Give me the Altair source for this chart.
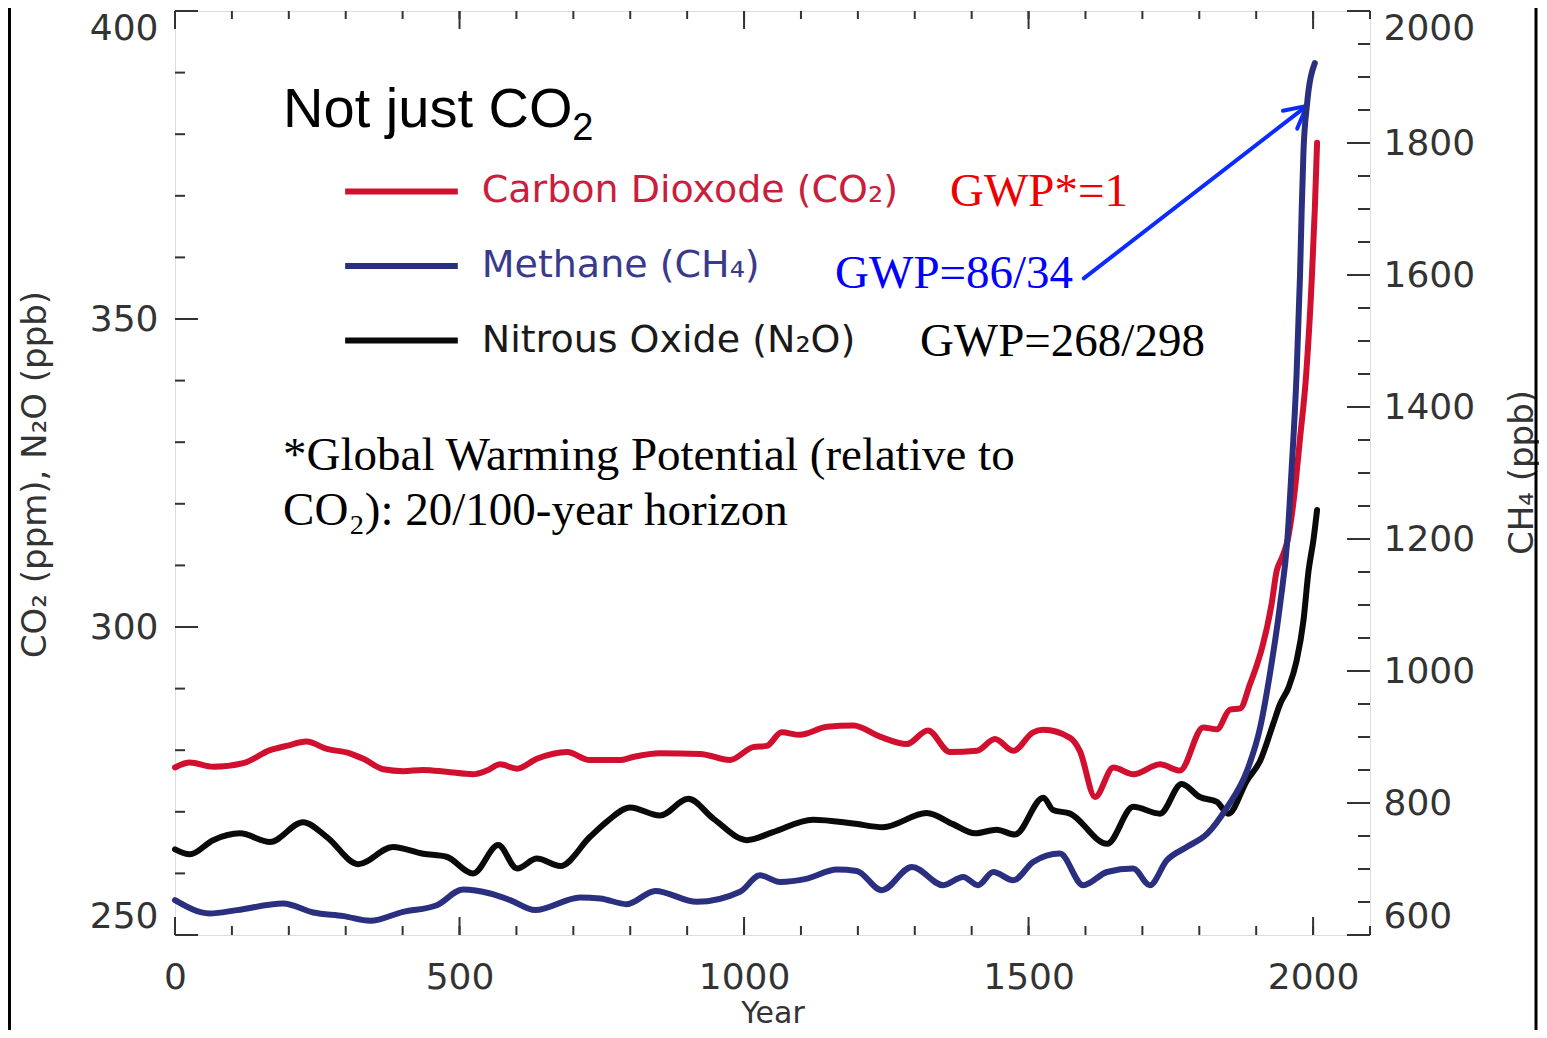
import altair as alt
import pandas as pd

W, H = 1195, 924

# ---------------- data ----------------
co2_year = [0, 26, 67, 120, 167, 196, 231, 267, 307, 331, 366, 401, 436, 477, 524,
            548, 571, 601, 636, 689, 729, 782, 805, 852, 923, 975, 1016, 1040, 1066, 1098,
            1146, 1192, 1239, 1286, 1323, 1362, 1409, 1441, 1473, 1508, 1526, 1573, 1590, 1617, 1649,
            1684, 1731, 1766, 1807, 1831, 1854, 1872, 1889, 1900, 1910, 1927, 1936, 1945, 1956, 1965,
            1977, 1988, 1998, 2003, 2007]
co2_ppm = [277.2, 278.0, 277.3, 277.9, 280.0, 280.7, 281.4, 280.2, 279.5, 278.6, 276.9, 276.6, 276.8, 276.5, 276.1,
           276.7, 277.7, 277.0, 278.6, 279.7, 278.4, 278.4, 278.9, 279.5, 279.4, 278.4, 280.5, 280.7, 282.9, 282.5,
           283.8, 284.0, 282.2, 281.0, 283.2, 279.7, 279.9, 281.8, 279.9, 282.9, 283.3, 282.0, 279.9, 272.4, 277.2,
           276.1, 277.7, 276.7, 283.7, 283.4, 286.6, 286.8, 290.7, 293.5, 296.5, 303.7, 309.1, 311.2, 314.4, 319.9,
           330.6, 341.2, 357.1, 367.8, 378.6]

n2o_year = [0, 26, 67, 114, 167, 225, 267, 322, 383, 436, 477, 524, 568, 601, 636,
            677, 729, 760, 800, 852, 902, 946, 1005, 1051, 1121, 1192, 1244, 1321, 1367, 1406,
            1444, 1476, 1526, 1543, 1573, 1638, 1684, 1731, 1769, 1801, 1831, 1851, 1884, 1907, 1930,
            1942, 1957, 1971, 1983, 1992, 2001, 2007]
n2o_ppb = [263.9, 263.1, 265.4, 266.5, 265.1, 268.3, 265.9, 261.5, 264.3, 263.2, 262.7, 260.0, 264.6, 260.8, 262.4,
           261.2, 265.9, 268.5, 270.7, 269.4, 272.1, 268.9, 265.4, 266.7, 268.7, 268.1, 267.5, 269.8, 268.0, 266.5,
           267.1, 266.3, 272.3, 270.3, 269.7, 264.8, 270.8, 269.7, 274.5, 272.4, 271.6, 269.7, 275.1, 278.3, 284.3,
           287.5, 290.2, 294.5, 301.0, 309.1, 314.4, 319.0]

ch4_year = [0, 61, 109, 190, 243, 296, 343, 401, 460, 506, 554, 589, 633, 712, 747,
            794, 844, 917, 993, 1028, 1063, 1111, 1163, 1198, 1242, 1295, 1350, 1385, 1411, 1438,
            1473, 1508, 1555, 1596, 1638, 1684, 1713, 1743, 1778, 1814, 1849, 1884, 1907, 1924, 1942,
            1955, 1962, 1971, 1977, 1980, 1983, 1989, 2003]
ch4_ppb = [652.8, 632.7, 637.7, 647.8, 634.1, 628.6, 621.5, 635.1, 645.2, 668.9, 662.9, 652.8, 637.7, 656.8, 655.4,
           646.7, 666.8, 650.2, 665.4, 690.5, 680.4, 685.5, 699.2, 697.1, 667.9, 703.1, 675.4, 688.0, 675.4, 695.5,
           682.9, 710.6, 723.3, 675.4, 695.5, 700.6, 675.4, 713.2, 733.3, 753.5, 793.7, 849.1, 914.5, 995.0, 1101.0,
           1201.5, 1302.0, 1450.0, 1599.0, 1700.0, 1785.0, 1856.0, 1921.0]

# axis tick values
x_labels = [0, 500, 1000, 1500, 2000]
x_minor = list(range(0, 2101, 100))
left_labels = [250, 300, 350, 400]
left_minor = list(range(250, 401, 10))
right_labels = list(range(600, 2001, 200))
right_minor = list(range(600, 2001, 50))

# legend (inside the plot, in data coordinates)
legend_text = ["Carbon  Dioxode  (CO\u2082)", "Methane  (CH\u2084)", "Nitrous  Oxide  (N\u2082O)"]
legend_text_color = ["#c91f3d", "#3a3a8c", "#1a1a1a"]
legend_line_color = ["#d0102e", "#2b2f7f", "#0a0a0a"]
legend_y = [370.7, 358.6, 346.5]
legend_line_x = [299, 497]
legend_text_x = 539

# annotations
gwp_text = ["GWP*=1", "GWP=86/34", "GWP=268/298"]
gwp_color = ["#ee0000", "#0000ff", "#000000"]
gwp_x = [1362, 1160, 1309]
gwp_y = [370.6, 357.3, 346.3]

note_text = ["*Global Warming Potential (relative to", "CO\u2082): 20/100-year horizon"]
note_x = [190, 190]
note_y = [327.7, 318.8]

title_text = ["Not just CO", "2"]
title_x = [190, 698]
title_y = [381.1, 379.0]

arrow_from = [(1597, 356.6), (1989, 384.6), (1989, 384.6)]
arrow_to = [(1989, 384.6), (1947, 383.8), (1972, 380.9)]

# ---------------- encodings ----------------
FONT = "DejaVu Sans"
GREY = "#333333"

X = alt.X("year:Q",
          scale=alt.Scale(domain=[0, 2100], nice=False, zero=False),
          axis=alt.Axis(values=x_labels, format="d", title="Year", ticks=False, domain=False, grid=False,
                        labelFlush=False,
                        labelFontSize=36, labelPadding=25, labelFont=FONT, labelColor=GREY,
                        titleFont=FONT, titleFontSize=30, titleFontWeight="normal",
                        titleColor=GREY, titlePadding=3))
YL = alt.Y("v:Q",
           scale=alt.Scale(domain=[250, 400], nice=False, zero=False),
           axis=alt.Axis(values=left_labels, format="d", title="CO\u2082 (ppm), N\u2082O (ppb)", ticks=False,
                         domain=False, grid=False, labelFlush=True,
                         labelFontSize=36, labelPadding=17, labelFont=FONT, labelColor=GREY,
                         titleFont=FONT, titleFontSize=34, titleFontWeight="normal", titleColor=GREY,
                         titleAngle=270, titleAlign="center", titleBaseline="middle",
                         titleX=-140, titleY=463))
YR = alt.Y("c:Q",
           scale=alt.Scale(domain=[600, 2000], nice=False, zero=False),
           axis=alt.Axis(orient="right", values=right_labels, format="d", title="CH\u2084 (ppb)", ticks=False,
                         domain=False, grid=False, labelFlush=True,
                         labelFontSize=36, labelPadding=13, labelFont=FONT, labelColor=GREY,
                         titleFont=FONT, titleFontSize=34, titleFontWeight="normal", titleColor=GREY,
                         titleAngle=270, titleAlign="center", titleBaseline="middle",
                         titleX=152, titleY=461))

# ---------------- series ----------------
co2_df = pd.DataFrame({"year": co2_year, "v": co2_ppm})
n2o_df = pd.DataFrame({"year": n2o_year, "v": n2o_ppb})
ch4_df = pd.DataFrame({"year": ch4_year, "c": ch4_ppb})

line_style = dict(strokeWidth=6, interpolate="monotone", strokeCap="round", strokeJoin="round")
co2_line = alt.Chart(co2_df).mark_line(color=legend_line_color[0], **line_style).encode(x=X, y=YL)
n2o_line = alt.Chart(n2o_df).mark_line(color=legend_line_color[2], **line_style).encode(x=X, y=YL)
ch4_line = alt.Chart(ch4_df).mark_line(color=legend_line_color[1], **line_style).encode(x=X, y=YR)

# ---------------- inward ticks ----------------
TICK = GREY
xmin_df = pd.DataFrame({"year": x_minor})
xmaj_df = pd.DataFrame({"year": x_labels})
bottom_minor = alt.Chart(xmin_df).mark_rule(color=TICK, strokeWidth=2).encode(
    x=X, y=alt.value(H), y2=alt.value(H - 9))
bottom_major = alt.Chart(xmaj_df).mark_rule(color=TICK, strokeWidth=2).encode(
    x=X, y=alt.value(H), y2=alt.value(H - 18))
top_minor = alt.Chart(xmin_df).mark_rule(color=TICK, strokeWidth=2).encode(
    x=X, y=alt.value(0), y2=alt.value(8))
top_major = alt.Chart(xmaj_df).mark_rule(color=TICK, strokeWidth=2).encode(
    x=X, y=alt.value(0), y2=alt.value(18))

left_minor_r = alt.Chart(pd.DataFrame({"v": left_minor})).mark_rule(color=TICK, strokeWidth=2).encode(
    y=YL, x=alt.value(0), x2=alt.value(10))
left_major_r = alt.Chart(pd.DataFrame({"v": left_labels})).mark_rule(color=TICK, strokeWidth=2).encode(
    y=YL, x=alt.value(0), x2=alt.value(23))
right_minor_r = alt.Chart(pd.DataFrame({"c": right_minor})).mark_rule(color=TICK, strokeWidth=2).encode(
    y=YR, x=alt.value(W), x2=alt.value(W - 12))
right_major_r = alt.Chart(pd.DataFrame({"c": right_labels})).mark_rule(color=TICK, strokeWidth=2).encode(
    y=YR, x=alt.value(W), x2=alt.value(W - 23))

# ---------------- legend ----------------
leg_lines = []
leg_texts = []
for i in range(3):
    ldf = pd.DataFrame({"year": [legend_line_x[0]], "year2": [legend_line_x[1]], "v": [legend_y[i]]})
    leg_lines.append(alt.Chart(ldf).mark_rule(color=legend_line_color[i], strokeWidth=6).encode(
        x=X, x2="year2:Q", y=YL))
    tdf = pd.DataFrame({"year": [legend_text_x], "v": [legend_y[i]], "t": [legend_text[i]]})
    leg_texts.append(alt.Chart(tdf).mark_text(font=FONT, fontSize=38, align="left", baseline="middle",
                                              color=legend_text_color[i]).encode(
        x=X, y=YL, text="t:N"))

# ---------------- annotations ----------------
gwp_layers = []
for i in range(3):
    gdf = pd.DataFrame({"year": [gwp_x[i]], "v": [gwp_y[i]], "t": [gwp_text[i]]})
    gwp_layers.append(alt.Chart(gdf).mark_text(font="Liberation Serif", fontSize=47, align="left",
                                               baseline="middle", color=gwp_color[i]).encode(
        x=X, y=YL, text="t:N"))

note_df = pd.DataFrame({"year": note_x, "v": note_y, "t": note_text})
note = alt.Chart(note_df).mark_text(font="Liberation Serif", fontSize=47, align="left",
                                    baseline="middle", color="black").encode(x=X, y=YL, text="t:N")

t1 = alt.Chart(pd.DataFrame({"year": [title_x[0]], "v": [title_y[0]], "t": [title_text[0]]})).mark_text(
    font="Liberation Sans", fontSize=56, align="left", baseline="alphabetic", color="black").encode(
    x=X, y=YL, text="t:N")
t2 = alt.Chart(pd.DataFrame({"year": [title_x[1]], "v": [title_y[1]], "t": [title_text[1]]})).mark_text(
    font="Liberation Sans", fontSize=38, align="left", baseline="alphabetic", color="black").encode(
    x=X, y=YL, text="t:N")

arrow_df = pd.DataFrame({"year": [a[0] for a in arrow_from], "v": [a[1] for a in arrow_from],
                         "year2": [b[0] for b in arrow_to], "v2": [b[1] for b in arrow_to]})
arrow = alt.Chart(arrow_df).mark_rule(color="#0a2cff", strokeWidth=4, strokeCap="round").encode(
    x=X, y=YL, x2="year2:Q", y2="v2:Q")

# slide border lines (decorative, outside plot)
one = pd.DataFrame({"k": [0]})
border_l = alt.Chart(one).mark_rule(color="black", strokeWidth=3).encode(
    x=alt.value(-165.5), y=alt.value(-11), y2=alt.value(1027))
border_r = alt.Chart(one).mark_rule(color="black", strokeWidth=3).encode(
    x=alt.value(W + 166), y=alt.value(-11), y2=alt.value(1027))

left = alt.layer(
    bottom_minor, bottom_major, top_minor, top_major, left_minor_r, left_major_r,
    *leg_lines, *leg_texts, *gwp_layers, note, t1, t2, arrow,
    co2_line, n2o_line, border_l, border_r,
)
right = alt.layer(right_minor_r, right_major_r, ch4_line)

chart = alt.layer(left, right).resolve_scale(y="independent").properties(
    width=W, height=H,
    autosize=alt.AutoSizeParams(type="none"),
    padding={"left": 167, "top": 3, "right": 169, "bottom": 95},
).configure_view(stroke=GREY, strokeWidth=2).configure(background="white")

chart.save("out.html", embed_options={"renderer": "svg", "actions": False})
